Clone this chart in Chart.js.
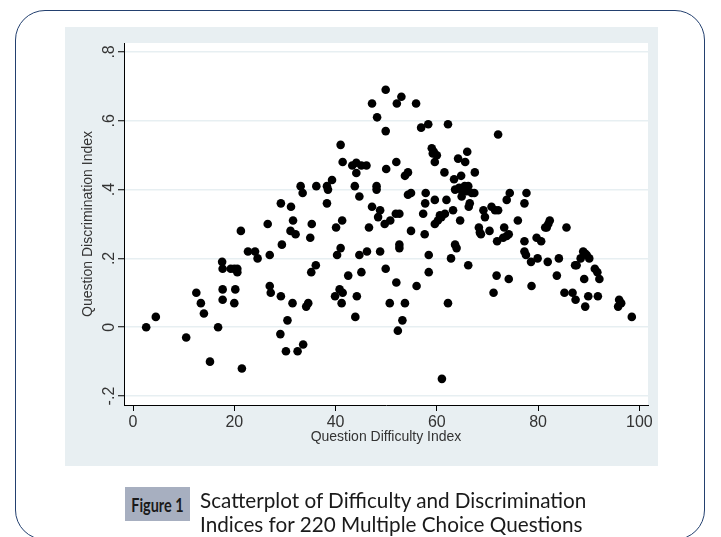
<!DOCTYPE html>
<html><head><meta charset="utf-8">
<script src="https://cdn.jsdelivr.net/npm/chart.js@4.4.0/dist/chart.umd.min.js"></script>
<style>
html,body{margin:0;padding:0;background:#fff;}
body{width:721px;height:537px;position:relative;overflow:hidden;}
#frame{position:absolute;left:15px;top:10px;width:690px;height:530px;border:1.5px solid #23406f;border-radius:30px;box-sizing:border-box;}
#panel{position:absolute;left:65px;top:27px;width:593px;height:439px;background:#e8eff2;}
#wrap{position:absolute;left:0;top:0;width:721px;height:537px;}
#figlabel{position:absolute;left:125px;top:487px;width:65px;height:34px;background:#a7afc0;color:#1a1a1a;display:flex;align-items:center;justify-content:center;}
#figlabel span{font:bold 19px Lato,sans-serif;display:inline-block;transform:scaleX(0.76);white-space:nowrap;}
#caption{position:absolute;left:200px;top:488px;font:20.7px Lato,sans-serif;line-height:24px;color:#1a1a1a;white-space:nowrap;}
</style></head>
<body>
<div id="frame"></div>
<div id="panel"></div>
<div id="wrap"><canvas id="c" width="721" height="537"></canvas></div>
<div id="figlabel"><span>Figure 1</span></div>
<div id="caption">Scatterplot of Difficulty and Discrimination<br>Indices for 220 Multiple Choice Questions</div>
<script>
const xTitle = 'Question Difficulty Index';
const yTitle = 'Question Discrimination Index';
const xTickValues = [0, 20, 40, 60, 80, 100];
const xTickLabels = ['0', '20', '40', '60', '80', '100'];
const yTickValues = [-0.2, 0, 0.2, 0.4, 0.6, 0.8];
const yTickLabels = ['-.2', '0', '.2', '.4', '.6', '.8'];

const difficulty = [
 21.3,22.7,24.1,24.6,17.6,17.7,19.3,20.0,20.6,20.6,12.5,17.7,20.2,13.4,17.7,20.0,14.0,4.5,2.6,16.8,10.5,15.2,21.5,
 41.0,41.4,43.3,44.1,45.1,46.1,44.1,39.3,33.1,33.5,36.2,38.3,38.5,43.8,44.7,29.2,31.2,38.3,26.6,31.6,31.1,32.1,35.3,35.0,40.1,41.3,46.6,29.4,27.0,40.3,41.0,44.7,46.2,36.1,35.2,42.5,45.1,27.0,27.2,29.2,31.5,34.2,34.6,40.8,41.4,39.9,41.2,44.2,43.9,30.5,29.1,30.2,32.5,33.6,
 49.9,53.0,47.2,52.1,55.9,48.2,49.9,56.9,58.3,62.2,59.0,59.4,60.0,59.6,66.0,64.2,65.6,50.0,52.0,61.5,54.3,53.7,63.4,64.8,48.1,48.1,63.6,64.4,65.5,54.3,54.9,57.8,57.7,59.6,61.9,64.9,63.2,47.2,48.8,48.4,51.9,52.6,49.7,50.8,57.3,61.6,60.9,60.2,59.6,64.6,54.9,57.6,48.8,52.6,52.6,58.4,63.6,63.9,62.8,66.2,49.9,52.0,58.4,56.0,50.7,53.7,62.2,53.2,52.3,61.0,
 72.1,67.5,66.2,65.9,66.9,67.4,66.5,66.3,74.4,77.7,73.8,77.3,69.2,69.5,70.8,71.5,72.1,76.0,68.3,68.5,68.7,70.4,73.3,73.1,73.8,74.2,71.9,81.7,82.3,81.4,79.7,80.6,77.3,77.3,77.6,78.6,79.9,81.9,84.1,71.8,74.2,71.2,78.7,83.7,
 85.6,88.9,89.6,90.1,88.4,87.3,87.6,91.2,91.7,89.1,92.1,85.2,86.8,87.4,89.9,91.8,89.3,96.0,96.4,95.8,98.5,
 82.0,60.6,65.0,89.2,59.2
];
const discrimination = [
 0.28,0.22,0.22,0.20,0.19,0.17,0.17,0.17,0.17,0.16,0.10,0.11,0.11,0.07,0.08,0.07,0.04,0.03,0.00,0.00,-0.03,-0.10,-0.12,
 0.53,0.48,0.47,0.478,0.47,0.47,0.448,0.428,0.41,0.39,0.41,0.41,0.40,0.41,0.38,0.36,0.35,0.36,0.30,0.31,0.28,0.27,0.30,0.26,0.29,0.31,0.29,0.24,0.21,0.21,0.23,0.21,0.22,0.18,0.16,0.15,0.16,0.12,0.10,0.09,0.07,0.06,0.07,0.11,0.10,0.09,0.07,0.09,0.03,0.02,-0.02,-0.07,-0.07,-0.05,
 0.69,0.67,0.65,0.65,0.65,0.61,0.57,0.58,0.59,0.59,0.52,0.51,0.50,0.48,0.51,0.49,0.48,0.46,0.48,0.45,0.45,0.44,0.43,0.44,0.41,0.40,0.40,0.405,0.41,0.385,0.39,0.39,0.36,0.37,0.37,0.38,0.34,0.35,0.34,0.32,0.33,0.33,0.30,0.31,0.33,0.33,0.32,0.31,0.30,0.31,0.28,0.27,0.22,0.24,0.23,0.21,0.24,0.23,0.20,0.18,0.17,0.13,0.16,0.12,0.07,0.07,0.07,0.02,-0.01,-0.15,
 0.56,0.45,0.41,0.395,0.39,0.39,0.36,0.35,0.39,0.39,0.37,0.36,0.34,0.32,0.35,0.34,0.34,0.31,0.29,0.275,0.27,0.28,0.29,0.26,0.265,0.27,0.25,0.29,0.31,0.29,0.26,0.25,0.25,0.22,0.21,0.19,0.20,0.19,0.20,0.15,0.14,0.10,0.12,0.15,
 0.29,0.22,0.21,0.20,0.20,0.18,0.18,0.17,0.16,0.14,0.14,0.10,0.10,0.08,0.09,0.09,0.06,0.08,0.07,0.06,0.03,
 0.30,0.325,0.395,0.215,0.505
];

const points = difficulty.map((d, i) => ({x: d, y: discrimination[i]}));

const plotBg = {
  id: 'plotBg',
  beforeDraw(chart) {
    const {ctx, chartArea: {left, top, right, bottom}} = chart;
    ctx.save();
    ctx.fillStyle = '#ffffff';
    ctx.fillRect(left, top, right - left, bottom - top);
    ctx.restore();
  }
};

const tickFont = {family: 'Liberation Sans, Arial, sans-serif', size: 16};
const titleFont = {family: 'Liberation Sans, Arial, sans-serif', size: 14};

new Chart(document.getElementById('c'), {
  type: 'scatter',
  data: {
    datasets: [{
      data: points,
      backgroundColor: '#000',
      borderColor: '#000',
      borderWidth: 0,
      pointRadius: 4.3,
      pointHoverRadius: 4.3,
      pointStyle: 'circle'
    }]
  },
  options: {
    responsive: false,
    animation: false,
    events: [],
    layout: {padding: {left: 65, top: 43, right: 73, bottom: 71}},
    plugins: {legend: {display: false}, tooltip: {enabled: false}},
    scales: {
      x: {
        type: 'linear', min: -1.78, max: 101.7,
        afterBuildTicks: s => { s.ticks = xTickValues.map(v => ({value: v})); },
        afterFit: s => { s.height = 61; },
        ticks: {callback: (v, i) => xTickLabels[i], font: tickFont, color: '#333', padding: 2, maxRotation: 0, autoSkip: false},
        grid: {drawOnChartArea: false, tickLength: 6, tickColor: '#000', tickWidth: 1},
        border: {color: '#000', width: 1},
        title: {display: true, text: xTitle, font: titleFont, color: '#333', padding: {top: 0, bottom: 20}}
      },
      y: {
        type: 'linear', min: -0.226, max: 0.826,
        afterBuildTicks: s => { s.ticks = yTickValues.map(v => ({value: v})); },
        afterFit: s => { s.width = 59; },
        ticks: {callback: (v, i) => yTickLabels[i], font: tickFont, color: '#333', padding: -1, minRotation: 90, maxRotation: 90, crossAlign: 'center', autoSkip: false},
        grid: {color: '#e7eff2', lineWidth: 1.5, tickLength: 6, tickColor: '#000', tickWidth: 1},
        border: {color: '#000', width: 1},
        title: {display: true, text: yTitle, font: titleFont, color: '#333', padding: {top: 15, bottom: 0}}
      }
    }
  },
  plugins: [plotBg]
});
</script>
</body></html>
